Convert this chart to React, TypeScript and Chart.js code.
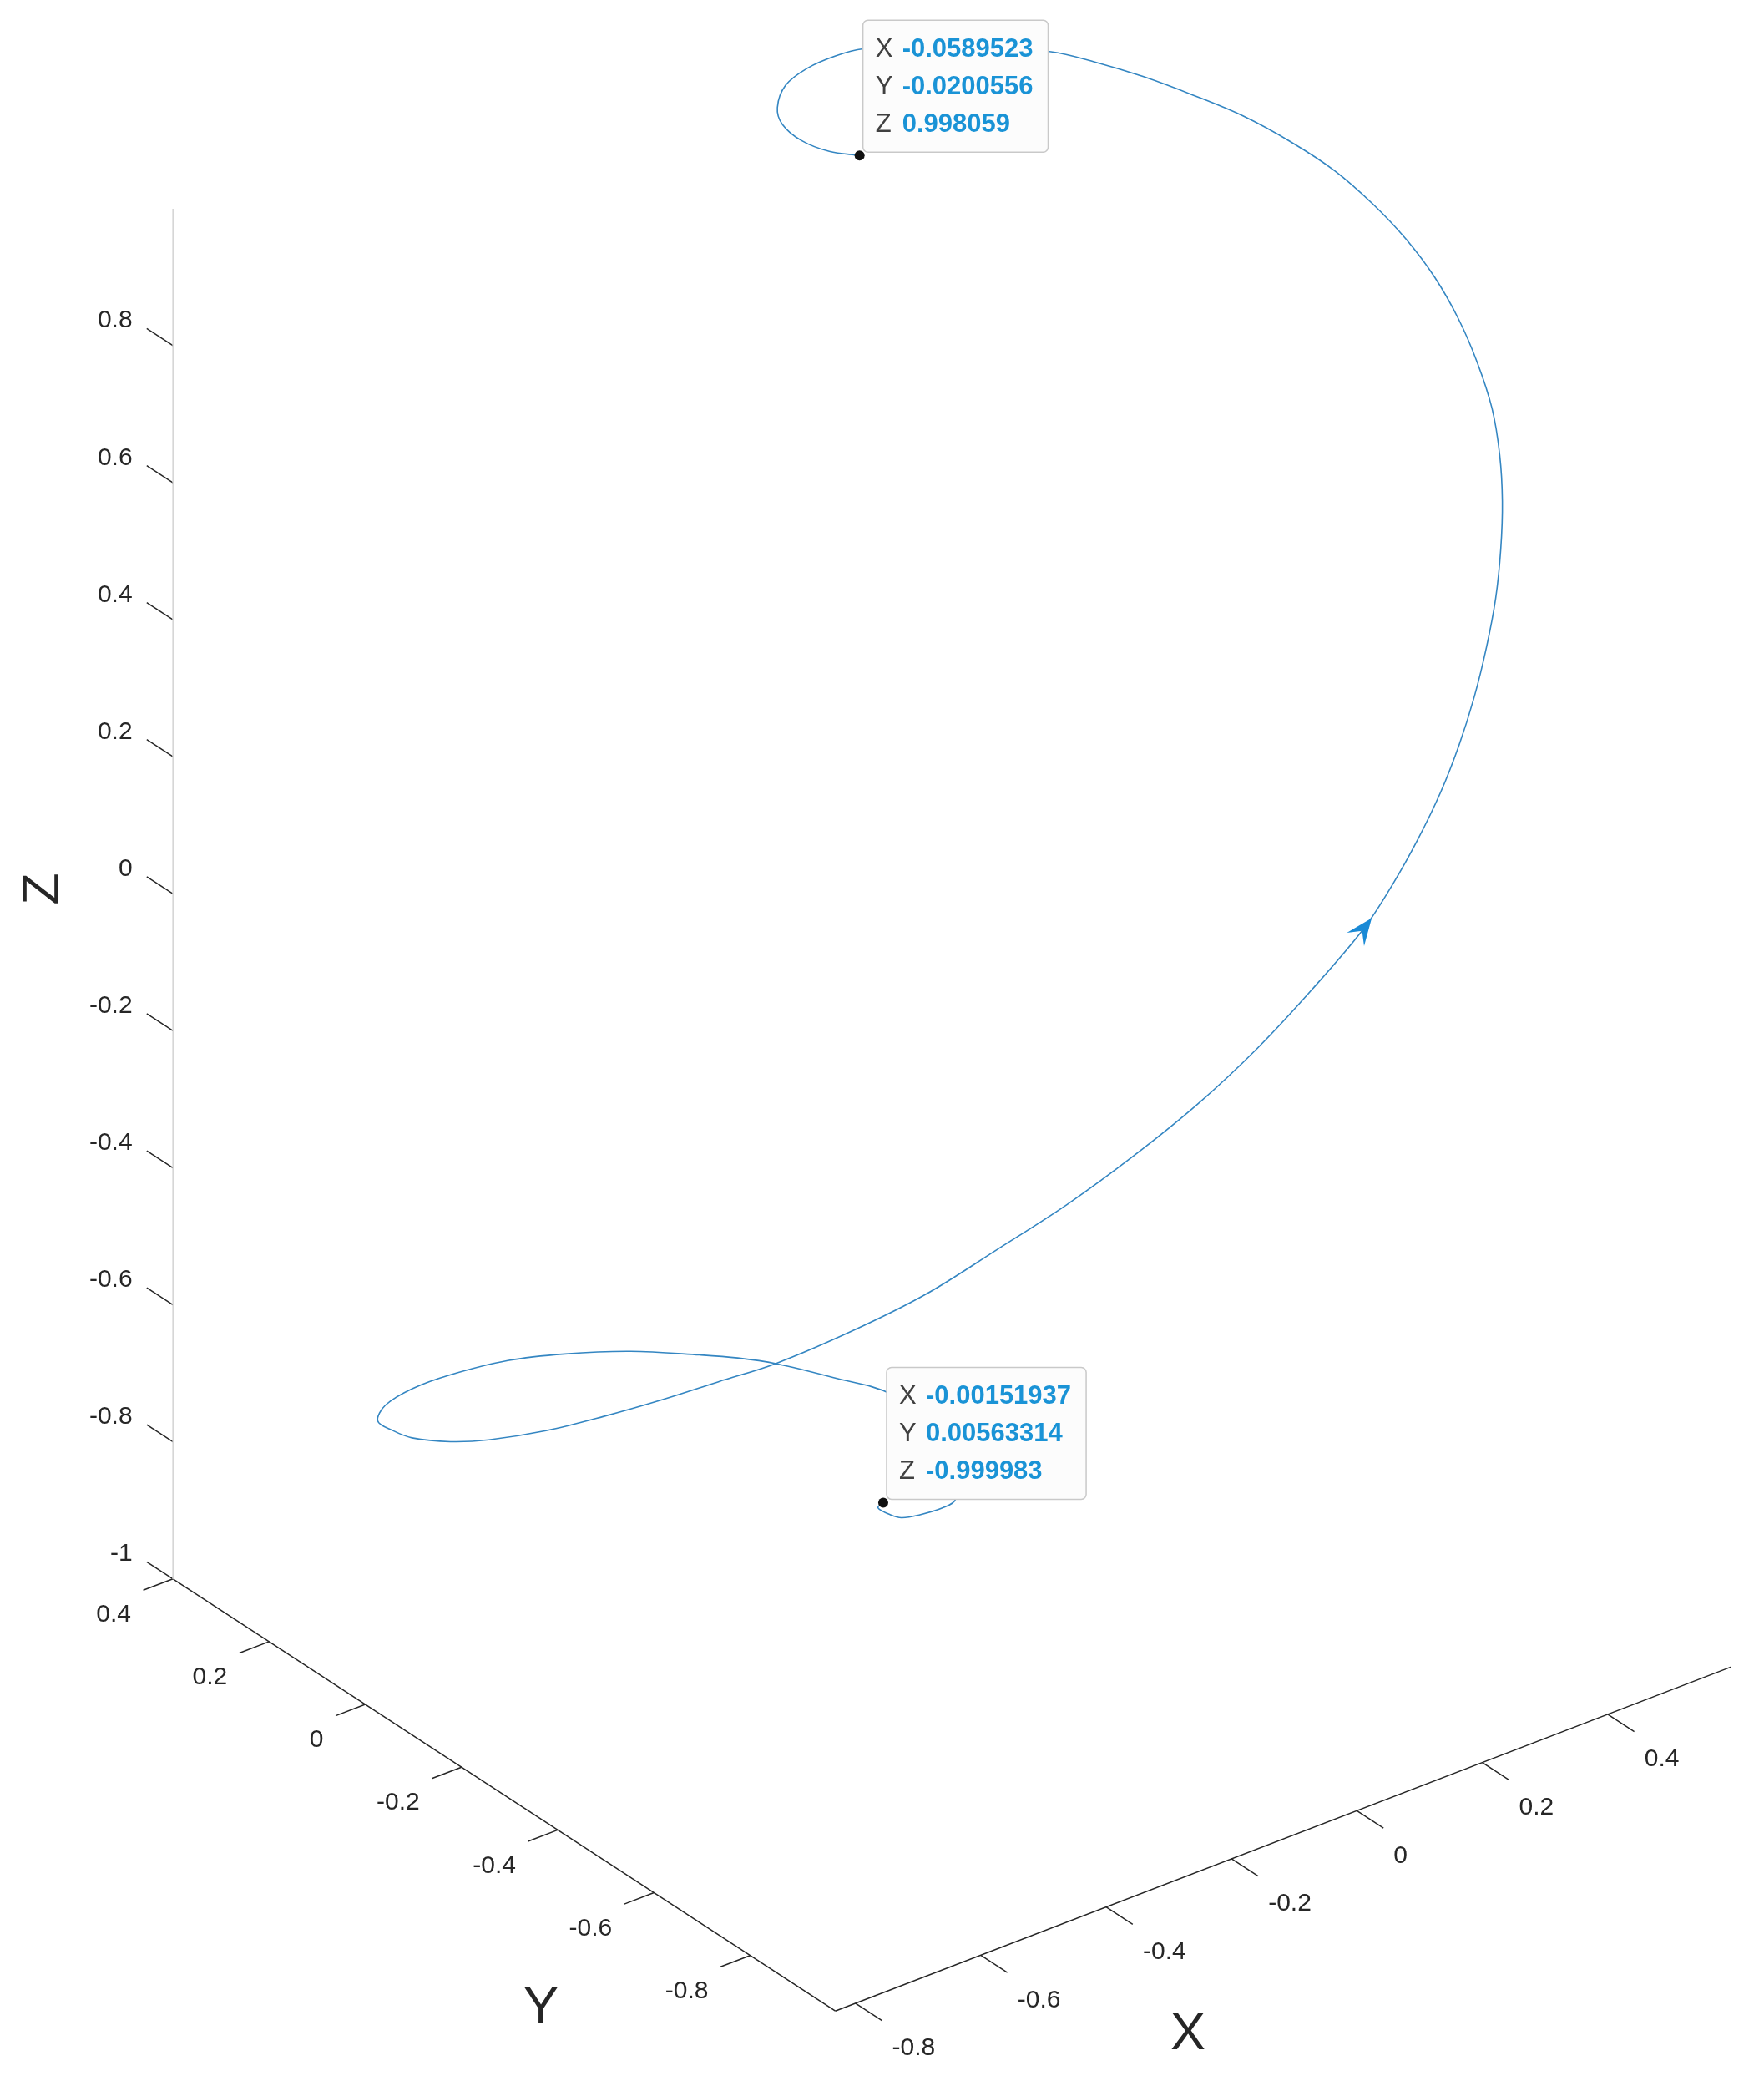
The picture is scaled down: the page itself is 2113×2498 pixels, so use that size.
import React, { useEffect, useRef } from "react";
import { Chart, registerables } from "chart.js";

Chart.register(...registerables);

const W = 2113;
const H = 2498;

// Trajectory on the unit sphere (X, Y, Z)
const curveX = [-0.00151937, -0.0149, -0.0134, -0.0071, 0.0126, 0.0477, 0.0719, 0.1, 0.125, 0.14, 0.145, 0.103, 0.054, 0.016, -0.027, -0.112, -0.205, -0.3, -0.416, -0.513, -0.615, -0.743, -0.788, -0.802, -0.822, -0.829, -0.823, -0.804, -0.775, -0.739, -0.696, -0.633, -0.565, -0.491, -0.412, -0.33, -0.244, -0.157, -0.068, 0.023, 0.08, 0.135, 0.19, 0.242, 0.294, 0.344, 0.394, 0.442, 0.486, 0.527, 0.564, 0.594, 0.62, 0.639, 0.65, 0.655, 0.653, 0.627, 0.581, 0.526, 0.479, 0.435, 0.39, 0.27, 0.151, 0.106, 0.05, -0.005, -0.055, -0.08, -0.09, -0.082, -0.0589523];
const curveY = [0.00563314, -0.0009, -0.0248, -0.0396, -0.0483, -0.0543, -0.0487, 0.0, 0.07, 0.13, 0.18, 0.245, 0.301, 0.331, 0.354, 0.387, 0.402, 0.397, 0.366, 0.318, 0.241, 0.09, 0.001, -0.058, -0.164, -0.253, -0.364, -0.458, -0.541, -0.613, -0.677, -0.753, -0.816, -0.869, -0.911, -0.943, -0.964, -0.974, -0.973, -0.962, -0.947, -0.928, -0.903, -0.874, -0.838, -0.798, -0.752, -0.7, -0.646, -0.587, -0.523, -0.453, -0.38, -0.306, -0.232, -0.156, -0.08, -0.022, 0.017, 0.049, 0.092, 0.135, 0.167, 0.215, 0.246, 0.245, 0.231, 0.204, 0.156, 0.113, 0.06, 0.013, -0.0200556];
const curveZ = [-0.999983, -0.9999, -0.9996, -0.9993, -0.9987, -0.9974, -0.9962, -0.995, -0.99, -0.982, -0.973, -0.964, -0.952, -0.944, -0.935, -0.915, -0.893, -0.867, -0.833, -0.797, -0.75, -0.659, -0.616, -0.595, -0.545, -0.499, -0.437, -0.38, -0.328, -0.281, -0.24, -0.18, -0.122, -0.058, -0.001, 0.056, 0.111, 0.166, 0.221, 0.273, 0.31, 0.348, 0.385, 0.423, 0.459, 0.495, 0.528, 0.559, 0.589, 0.615, 0.64, 0.665, 0.686, 0.706, 0.724, 0.739, 0.753, 0.778, 0.814, 0.849, 0.873, 0.89, 0.906, 0.938, 0.958, 0.964, 0.972, 0.979, 0.986, 0.99, 0.994, 0.997, 0.998059];

const arrowIndex = 39;

const xLim = [-0.832, 0.597];
const yLim = [-0.977, 0.399];
const zLim = [-1, 1];

const xTicks = [-0.8, -0.6, -0.4, -0.2, 0, 0.2, 0.4];
const yTicks = [-0.8, -0.6, -0.4, -0.2, 0, 0.2, 0.4];
const zTicks = [-1, -0.8, -0.6, -0.4, -0.2, 0, 0.2, 0.4, 0.6, 0.8];

const tipLetters = ["X", "Y", "Z"];
const tipStartValues = ["-0.00151937", "0.00563314", "-0.999983"];
const tipEndValues = ["-0.0589523", "-0.0200556", "0.998059"];

// view (MATLAB-like azimuth / elevation)
const AZ = (-37.5 * Math.PI) / 180;
const EL = (30 * Math.PI) / 180;
const PX_PER_UNIT = 952;
const ORIGIN_PX = [1062.4, 979.3];

function proj(x: number, y: number, z: number) {
  return {
    x: Math.cos(AZ) * x + Math.sin(AZ) * y,
    y: -Math.sin(EL) * Math.sin(AZ) * x + Math.sin(EL) * Math.cos(AZ) * y + Math.cos(EL) * z,
  };
}

const FONT = '"Liberation Sans", Arial, Helvetica, sans-serif';
const TEXT = "#262626";

export default function App() {
  const ref = useRef<HTMLCanvasElement | null>(null);

  useEffect(() => {
    const canvas = ref.current;
    if (!canvas) return;

    const curve = curveX.map((v, i) => proj(v, curveY[i], curveZ[i]));
    const last = curveX.length - 1;

    const toPx = (chart: any, x: number, y: number, z: number) => {
      const p = proj(x, y, z);
      return { x: chart.scales.x.getPixelForValue(p.x), y: chart.scales.y.getPixelForValue(p.y) };
    };

    const drawTip = (ctx: CanvasRenderingContext2D, dot: { x: number; y: number }, values: string[]) => {
      ctx.save();
      ctx.font = `bold 31px ${FONT}`;
      const maxW = Math.max(...values.map((v) => ctx.measureText(v).width));
      const w = 47 + maxW + 18;
      const h = 158;
      const left = dot.x + 4;
      const top = dot.y - 4 - h;
      ctx.beginPath();
      (ctx as any).roundRect(left, top, w, h, 6);
      ctx.fillStyle = "#fcfcfc";
      ctx.fill();
      ctx.lineWidth = 1.5;
      ctx.strokeStyle = "#c9c9c9";
      ctx.stroke();
      ctx.textBaseline = "middle";
      ctx.textAlign = "left";
      tipLetters.forEach((l, i) => {
        const yy = top + 35 + i * 45;
        ctx.font = `31px ${FONT}`;
        ctx.fillStyle = "#404040";
        ctx.fillText(l, left + 15, yy);
        ctx.font = `bold 31px ${FONT}`;
        ctx.fillStyle = "#1a93d6";
        ctx.fillText(values[i], left + 47, yy);
      });
      ctx.restore();
    };

    const overlay = {
      id: "overlay3d",
      beforeDatasetsDraw(chart: any) {
        const ctx: CanvasRenderingContext2D = chart.ctx;
        ctx.save();
        const o = toPx(chart, 0, 0, 0);
        const unitDir = (dx: number, dy: number, dz: number) => {
          const p = toPx(chart, dx, dy, dz);
          const vx = p.x - o.x, vy = p.y - o.y;
          const n = Math.hypot(vx, vy);
          return { x: vx / n, y: vy / n };
        };
        const TL = 38;
        ctx.strokeStyle = TEXT;
        ctx.lineWidth = 1.5;
        ctx.fillStyle = TEXT;
        ctx.font = `30px ${FONT}`;
        ctx.textBaseline = "middle";
        // X ticks (pointing along -Y)
        const dX = unitDir(0, -1, 0);
        xTicks.forEach((t) => {
          const b = toPx(chart, t, yLim[0], zLim[0]);
          ctx.beginPath();
          ctx.moveTo(b.x, b.y);
          ctx.lineTo(b.x + dX.x * TL, b.y + dX.y * TL);
          ctx.stroke();
          ctx.textAlign = "left";
          ctx.fillText(String(t), b.x + 44, b.y + 54);
        });
        // Y ticks (pointing along -X)
        const dY = unitDir(-1, 0, 0);
        yTicks.forEach((t) => {
          const b = toPx(chart, xLim[0], t, zLim[0]);
          ctx.beginPath();
          ctx.moveTo(b.x, b.y);
          ctx.lineTo(b.x + dY.x * TL, b.y + dY.y * TL);
          ctx.stroke();
          ctx.textAlign = "right";
          ctx.fillText(String(t), b.x - 50, b.y + 43);
        });
        // Z ticks (pointing along +Y)
        const dZ = unitDir(0, 1, 0);
        zTicks.forEach((t) => {
          const b = toPx(chart, xLim[0], yLim[1], t);
          ctx.beginPath();
          ctx.moveTo(b.x, b.y);
          ctx.lineTo(b.x + dZ.x * TL, b.y + dZ.y * TL);
          ctx.stroke();
          ctx.textAlign = "right";
          ctx.fillText(String(t), b.x - 49, b.y - 30);
        });
        // axis titles
        ctx.font = `63px ${FONT}`;
        ctx.textAlign = "center";
        const xm = toPx(chart, (xLim[0] + xLim[1]) / 2, yLim[0], zLim[0]);
        ctx.fillText("X", xm.x - 114, xm.y + 234);
        const ym = toPx(chart, xLim[0], (yLim[0] + yLim[1]) / 2, zLim[0]);
        ctx.fillText("Y", ym.x + 44, ym.y + 256);
        const zm = toPx(chart, xLim[0], yLim[1], (zLim[0] + zLim[1]) / 2);
        ctx.save();
        ctx.translate(zm.x - 155, zm.y - 6);
        ctx.rotate(-Math.PI / 2);
        ctx.fillText("Z", 0, 0);
        ctx.restore();
        ctx.restore();
      },
      afterDatasetDraw(chart: any, args: any) {
        if (args.index !== 0) return;
        const ctx: CanvasRenderingContext2D = chart.ctx;
        // arrow head on the trajectory
        const p = toPx(chart, curveX[arrowIndex], curveY[arrowIndex], curveZ[arrowIndex]);
        const p0 = toPx(chart, curveX[arrowIndex - 1], curveY[arrowIndex - 1], curveZ[arrowIndex - 1]);
        const p1 = toPx(chart, curveX[arrowIndex + 1], curveY[arrowIndex + 1], curveZ[arrowIndex + 1]);
        let dx = p1.x - p0.x, dy = p1.y - p0.y;
        const n = Math.hypot(dx, dy);
        dx /= n; dy /= n;
        const nx = -dy, ny = dx;
        ctx.save();
        ctx.fillStyle = "#1a8ad6";
        ctx.beginPath();
        ctx.moveTo(p.x + dx * 15, p.y + dy * 15);
        ctx.lineTo(p.x - dx * 17 + nx * 13, p.y - dy * 17 + ny * 13);
        ctx.lineTo(p.x - dx * 4, p.y - dy * 4);
        ctx.lineTo(p.x - dx * 17 - nx * 13, p.y - dy * 17 - ny * 13);
        ctx.closePath();
        ctx.fill();
        ctx.restore();
        // data tips
        const d0 = toPx(chart, curveX[0], curveY[0], curveZ[0]);
        const d1 = toPx(chart, curveX[last], curveY[last], curveZ[last]);
        drawTip(ctx, d0, tipStartValues);
        drawTip(ctx, d1, tipEndValues);
      },
    };

    const axisLine = (a: number[], b: number[]) => [proj(a[0], a[1], a[2]), proj(b[0], b[1], b[2])];

    const chart = new Chart(canvas, {
      type: "scatter",
      data: {
        datasets: [
          {
            data: curve,
            showLine: true,
            borderColor: "#3486c2",
            borderWidth: 1.6,
            pointRadius: 0,
            tension: 0.35,
            order: 3,
          } as any,
          {
            data: axisLine([xLim[0], yLim[0], zLim[0]], [xLim[1], yLim[0], zLim[0]]),
            showLine: true,
            borderColor: TEXT,
            borderWidth: 1.5,
            pointRadius: 0,
            order: 4,
          },
          {
            data: axisLine([xLim[0], yLim[0], zLim[0]], [xLim[0], yLim[1], zLim[0]]),
            showLine: true,
            borderColor: TEXT,
            borderWidth: 1.5,
            pointRadius: 0,
            order: 4,
          },
          {
            data: axisLine([xLim[0], yLim[1], zLim[0]], [xLim[0], yLim[1], zLim[1]]),
            showLine: true,
            borderColor: "#d6d6d6",
            borderWidth: 2.5,
            pointRadius: 0,
            order: 5,
          },
          {
            data: [curve[0], curve[last]],
            showLine: false,
            pointRadius: 6,
            pointBackgroundColor: "#111111",
            pointBorderWidth: 0,
            order: 1,
          },
        ],
      },
      options: {
        animation: false,
        responsive: false,
        maintainAspectRatio: false,
        devicePixelRatio: 1,
        layout: { padding: 0 },
        events: [],
        plugins: { legend: { display: false }, tooltip: { enabled: false }, title: { display: false } },
        scales: {
          x: {
            type: "linear",
            display: false,
            min: -ORIGIN_PX[0] / PX_PER_UNIT,
            max: (W - ORIGIN_PX[0]) / PX_PER_UNIT,
          },
          y: {
            type: "linear",
            display: false,
            min: (ORIGIN_PX[1] - H) / PX_PER_UNIT,
            max: ORIGIN_PX[1] / PX_PER_UNIT,
          },
        },
      },
      plugins: [overlay],
    });

    return () => chart.destroy();
  }, []);

  return (
    <div style={{ position: "absolute", left: 0, top: 0, width: W, height: H, background: "#ffffff" }}>
      <canvas ref={ref} width={W} height={H} style={{ width: W, height: H, display: "block" }} />
    </div>
  );
}
